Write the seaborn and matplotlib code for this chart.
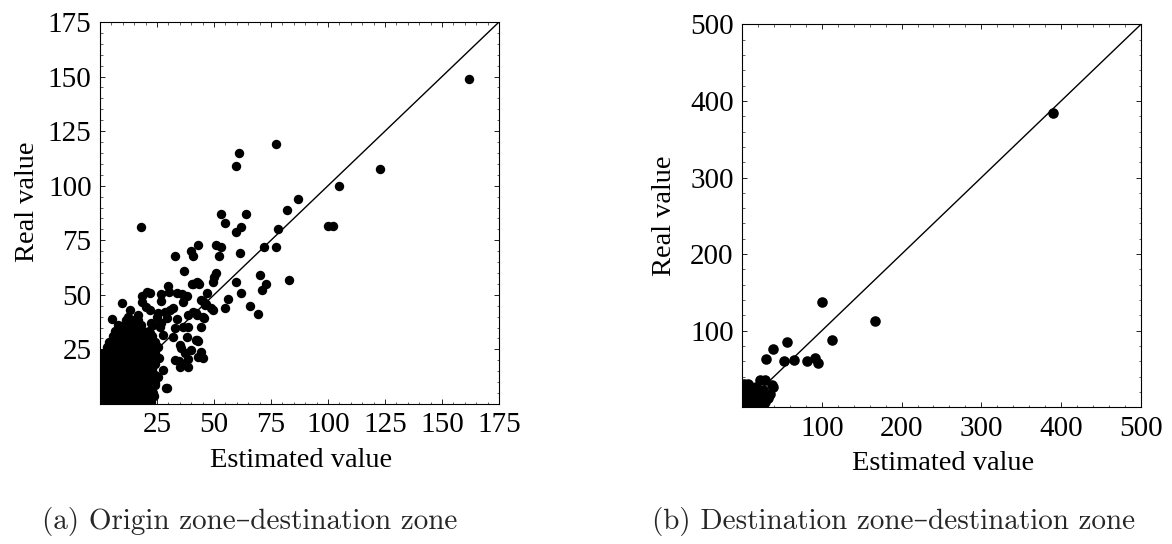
import matplotlib
matplotlib.use('Agg')
import matplotlib.pyplot as plt
import seaborn as sns
import pandas as pd
from matplotlib.ticker import MultipleLocator, FixedLocator

# ---- panel (a): origin zone - destination zone ----
# dense cloud near the origin, one list of x values per row of y
cloud_a_y = [1, 3.5, 6, 8.5, 11, 13.5, 16, 18.5, 21, 23.5, 26, 28.5, 31, 33.5, 36, 38.5]
cloud_a_x = [
    [0.5, 3, 5.5, 8, 10.5, 13, 15.5, 18, 20.5, 22.5],
    [1.5, 4, 6.5, 9, 11.5, 14, 16.5, 19, 21.5, 23.5],
    [0.5, 3, 5.5, 8, 10.5, 13, 15.5, 18, 20.5, 23],
    [1.5, 4, 6.5, 9, 11.5, 14, 16.5, 19, 21.5, 24],
    [0.5, 3, 5.5, 8, 10.5, 13, 15.5, 18, 20.5, 23],
    [1.5, 4, 6.5, 9, 11.5, 14, 16.5, 19, 21.5, 24],
    [0.5, 3, 5.5, 8, 10.5, 13, 15.5, 18, 20.5, 23],
    [1.5, 4, 6.5, 9, 11.5, 14, 16.5, 19, 21.5, 24],
    [0.5, 3, 5.5, 8, 10.5, 13, 15.5, 18, 20.5, 23, 26],
    [1.5, 4, 6.5, 9, 11.5, 14, 16.5, 19, 21.5, 24],
    [3, 5.5, 8, 10.5, 13, 15.5, 18, 20.5, 23, 25.5],
    [4, 6.5, 9, 11.5, 14, 16.5, 19, 21.5, 24],
    [5.5, 8, 10.5, 13, 15.5, 18, 20.5, 23],
    [6.5, 9, 11.5, 14, 16.5, 19, 21.5],
    [8, 10.5, 13, 15.5, 18],
    [11.5, 14, 16.5],
]
# scattered points (estimated, real)
spread_a = [
    (162, 149), (77, 119), (61, 115), (59.5, 109), (123, 107.5), (105, 100), (87, 94), (82, 89),
    (53, 87), (64, 87), (55, 83), (18, 81), (100, 81.5), (102, 81.5), (59.5, 79), (62, 81),
    (78, 80), (72, 72), (77, 72), (51, 73), (53, 72), (43, 73), (40, 70), (41, 68), (33, 68),
    (52, 68), (61.5, 69), (37, 61), (51, 60), (50, 58), (49.5, 56), (70, 59), (83, 57),
    (59.5, 56), (40.5, 55), (43, 55.5), (43.5, 55), (73, 55), (71, 52), (30, 54), (62, 51),
    (47, 51), (56, 48), (55, 44), (66, 45), (69.5, 41), (45, 47), (46.7, 45.7), (49.5, 43),
    (45.4, 39.2), (20.7, 51.3), (18.5, 49.5), (18.3, 46.9), (9.6, 46.3), (26.7, 50.4),
    (30.2, 51.2), (33.9, 50.8), (35.8, 50.2), (38.1, 49.6), (26.6, 47), (36.5, 46.6),
    (5.4, 38.9), (45.1, 21.1), (29.2, 7.2), (42.1, 29.3), (43.2, 29), (42.4, 56), (40.9, 55),
    (21.9, 50.7), (44.5, 47.6), (46, 45.4), (48.9, 43.8), (45.3, 40), (40.9, 42.3),
    (42.4, 40.8), (30.7, 43.1), (28.5, 42.3), (32.1, 43.8), (24.8, 40), (29.2, 39.2),
    (33.6, 38.8), (21.9, 43.1), (23.3, 36.2), (26.3, 35.4), (32.9, 34.7), (36.5, 35.4),
    (38, 30.8), (42.4, 29.3), (32.1, 30.8), (27.7, 31.6), (21.9, 32.4), (35, 27), (24.8, 26.2),
    (20.3, 44.6), (13, 43.1), (12.3, 40), (16.6, 40.8), (25.4, 41.5), (26.9, 37), (22.5, 37),
    (38.5, 40.8), (38.5, 35.4), (42.2, 41.5), (44.4, 35.4), (35.6, 25.5), (37.1, 23.2),
    (32.7, 20.2), (34.9, 17.1), (38.5, 17.1), (42.9, 21.7), (44.4, 24), (27.6, 15.6),
    (25.4, 12.5), (24, 9.5), (29, 7.2), (23.2, 4.9), (21, 3.3), (21.8, 1.8), (39.7, 24.9),
    (38.4, 20.6), (34.8, 19.7), (36.5, 18.3),
]
ticks_a = [25, 50, 75, 100, 125, 150, 175]
diag_a = [0, 175]

# ---- panel (b): destination zone - destination zone ----
cloud_b_y = [2, 7, 12, 17, 22, 27, 31]
cloud_b_x = [
    [2, 8, 14, 20, 26],
    [5, 11, 17, 23, 29],
    [2, 8, 14, 20, 26, 32],
    [5, 11, 17, 23, 29, 35],
    [2, 8, 14, 20, 26],
    [5, 11, 17],
    [2, 8],
]
spread_b = [
    (100, 137.5), (167, 113), (113, 87.5), (57, 84.9), (38.4, 76.5), (29.7, 62.7),
    (52.6, 60.8), (65.2, 61.4), (82, 60.6), (91, 65), (95, 57.6), (390, 384),
    (22.6, 36), (28.8, 35), (37.2, 29), (39.2, 26),
]
ticks_b = [100, 200, 300, 400, 500]
diag_b = [0, 500]

captions = ['(a) Origin zone\u2013destination zone',
            '(b) Destination zone\u2013destination zone']


def build_frame(rows_y, rows_x, spread):
    est, real = [], []
    for yv, xs in zip(rows_y, rows_x):
        for xv in xs:
            est.append(xv)
            real.append(yv)
    for xv, yv in spread:
        est.append(xv)
        real.append(yv)
    return pd.DataFrame({'Estimated value': est, 'Real value': real})


sns.set_style('ticks')
plt.rcParams['font.family'] = ['Liberation Serif', 'DejaVu Serif']
plt.rcParams['axes.edgecolor'] = 'black'
plt.rcParams['axes.linewidth'] = 0.8

fig = plt.figure(figsize=(11.72, 5.44), dpi=100)
ax_a = fig.add_axes([0.0853, 0.2574, 0.3405, 0.7022])
ax_b = fig.add_axes([0.6331, 0.2513, 0.3404, 0.7040])

panels = [
    (ax_a, build_frame(cloud_a_y, cloud_a_x, spread_a), ticks_a, diag_a, 5, 46, (-0.150, 0.53)),
    (ax_b, build_frame(cloud_b_y, cloud_b_x, spread_b), ticks_b, diag_b, 20, 58, (-0.163, 0.50)),
]

for ax, df, ticks, diag, minor, size, ylab in panels:
    sns.lineplot(x=diag, y=diag, ax=ax, color='black', linewidth=1.0)
    sns.scatterplot(data=df, x='Estimated value', y='Real value', ax=ax, color='black',
                    s=size, linewidth=0, legend=False)
    ax.set_xlim(diag[0], diag[1])
    ax.set_ylim(diag[0], diag[1])
    ax.xaxis.set_major_locator(FixedLocator(ticks))
    ax.yaxis.set_major_locator(FixedLocator(ticks))
    ax.xaxis.set_minor_locator(MultipleLocator(minor))
    ax.yaxis.set_minor_locator(MultipleLocator(minor))
    ax.tick_params(axis='both', which='major', direction='in', length=3.5, width=0.6,
                   top=True, right=True, labelsize=21, colors='black')
    ax.tick_params(axis='both', which='minor', direction='in', length=1.8, width=0.5,
                   top=True, right=True)
    ax.tick_params(axis='x', which='major', pad=6)
    ax.tick_params(axis='y', which='major', pad=6)
    for sp in ax.spines.values():
        sp.set_visible(True)
        sp.set_color('black')
    ax.set_xlabel('Estimated value', fontsize=20.5, color='black')
    ax.set_ylabel('Real value', fontsize=20.5, color='black')
    ax.xaxis.set_label_coords(0.505, -0.115)
    ax.yaxis.set_label_coords(ylab[0], ylab[1])

fig.text(250 / 1172, 1 - 522 / 544, captions[0], ha='center', va='center', fontsize=21,
         family=['cmr10', 'DejaVu Serif'])
fig.text(894 / 1172, 1 - 522 / 544, captions[1], ha='center', va='center', fontsize=21,
         family=['cmr10', 'DejaVu Serif'])

fig.savefig('out.png', dpi=100)
